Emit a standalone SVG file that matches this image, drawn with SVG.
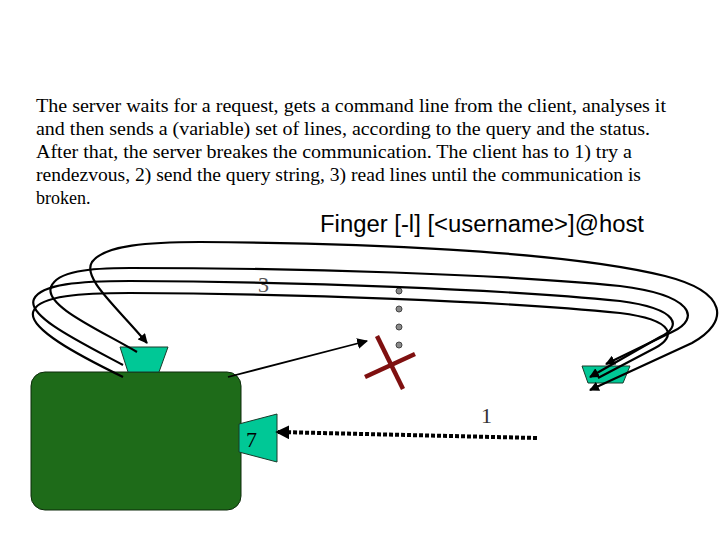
<svg xmlns="http://www.w3.org/2000/svg" width="720" height="540" viewBox="0 0 720 540">
<style>
.para{font-family:"Liberation Serif","Times New Roman",serif;font-size:18px;fill:#000}
.cmd{font-family:"Liberation Sans",Arial,sans-serif;font-size:23px;fill:#000}
.num{font-family:"Liberation Serif","Times New Roman",serif;font-size:22px}
.curve{fill:none;stroke:#000;stroke-width:2.2}
.port{fill:#00C896;stroke:#1a3a2a;stroke-width:1}
</style>
<defs>
<marker id="ah" viewBox="0 0 10 10" refX="9" refY="5" markerWidth="4.5" markerHeight="4.5" orient="auto-start-reverse" markerUnits="strokeWidth">
<path d="M0,0 L10,5 L0,10 z" fill="#000"/>
</marker>
<marker id="ahs" viewBox="0 0 10 10" refX="9" refY="5" markerWidth="6" markerHeight="6" orient="auto" markerUnits="strokeWidth">
<path d="M0,0 L10,5 L0,10 z" fill="#000"/>
</marker>
<marker id="ahd" viewBox="0 0 10 10" refX="8" refY="5" markerWidth="3.5" markerHeight="3.5" orient="auto" markerUnits="strokeWidth">
<path d="M0,0 L10,5 L0,10 z" fill="#000"/>
</marker>
</defs>
<rect width="720" height="540" fill="#fff"/>
<g id="description">
<text class="para" x="36" y="112" textLength="630" lengthAdjust="spacingAndGlyphs">The server waits for a request, gets a command line from the client, analyses it</text>
<text class="para" x="36" y="135" textLength="614" lengthAdjust="spacingAndGlyphs">and then sends a (variable) set of lines, according to the query and the status.</text>
<text class="para" x="36" y="158" textLength="596" lengthAdjust="spacingAndGlyphs">After that, the server breakes the communication. The client has to 1) try a</text>
<text class="para" x="36" y="181" textLength="605" lengthAdjust="spacingAndGlyphs">rendezvous, 2) send the query string, 3) read lines until the communication is</text>
<text class="para" x="36" y="204">broken.</text>
</g>
<g id="command">
<text class="cmd" x="320" y="232" textLength="324" lengthAdjust="spacingAndGlyphs">Finger [-l] [&lt;username&gt;]@host</text>
</g>
<g id="server">
<rect x="31" y="372" width="210" height="138" rx="14" ry="14" fill="#1E6B19" stroke="#0d2a0b" stroke-width="1"/>
</g>
<g id="server-port-top">
<polygon class="port" points="120,347 168,347 159,372 128,372"/>
</g>
<g id="server-port-7">
<polygon class="port" points="239,424 277,414 277,462 239,452"/>
<text class="num" x="246" y="447" fill="#000" font-size="25">7</text>
</g>
<g id="client-port">
<polygon class="port" points="582,366 630,366 623,383 588,383"/>
</g>
<g id="broken">
<line x1="377" y1="336" x2="403" y2="389" stroke="#7F1010" stroke-width="4.5"/>
<line x1="365" y1="377" x2="415" y2="354" stroke="#7F1010" stroke-width="4.5"/>
</g>
<g id="dots" fill="#8a8a8a" stroke="#444" stroke-width="1">
<circle cx="399" cy="291" r="3"/>
<circle cx="399" cy="309" r="3"/>
<circle cx="399" cy="327" r="3"/>
<circle cx="399" cy="345" r="3"/>
</g>
<g id="labels">
<text class="num" x="258" y="292" fill="#555">3</text>
<text class="num" x="481" y="423" fill="#333">1</text>
</g>
<g id="connectors">
<path class="curve" marker-start="url(#ah)" marker-end="url(#ah)" d="M147,343 C115,305 82,278 92,262 C104,245 150,242 200,242 C350,243 560,250 665,276 C728,292 730,322 692,343 L590,390"/>
<path class="curve" marker-end="url(#ah)" d="M137,352 C100,330 44,306 51,287 C57,271 90,268 130,268 C300,268 500,274 620,286 C692,295 702,318 672,332 L606,364"/>
<path class="curve" marker-end="url(#ah)" d="M123,365 C80,342 26,316 34,299 C41,284 80,281 130,281 C300,282 500,289 620,301 C680,309 682,327 660,337 L590,377"/>
<path class="curve" d="M123,377 C80,356 24,327 34,310 C41,296 80,293 130,293 C300,294 500,301 620,313 C676,320 676,337 655,348 L598,378"/>
<line x1="228" y1="377" x2="367" y2="341" stroke="#000" stroke-width="1.8" marker-end="url(#ahs)"/>
<line x1="537" y1="438" x2="278" y2="432" stroke="#000" stroke-width="4" stroke-dasharray="4 2" marker-end="url(#ahd)"/>
</g>
</svg>
